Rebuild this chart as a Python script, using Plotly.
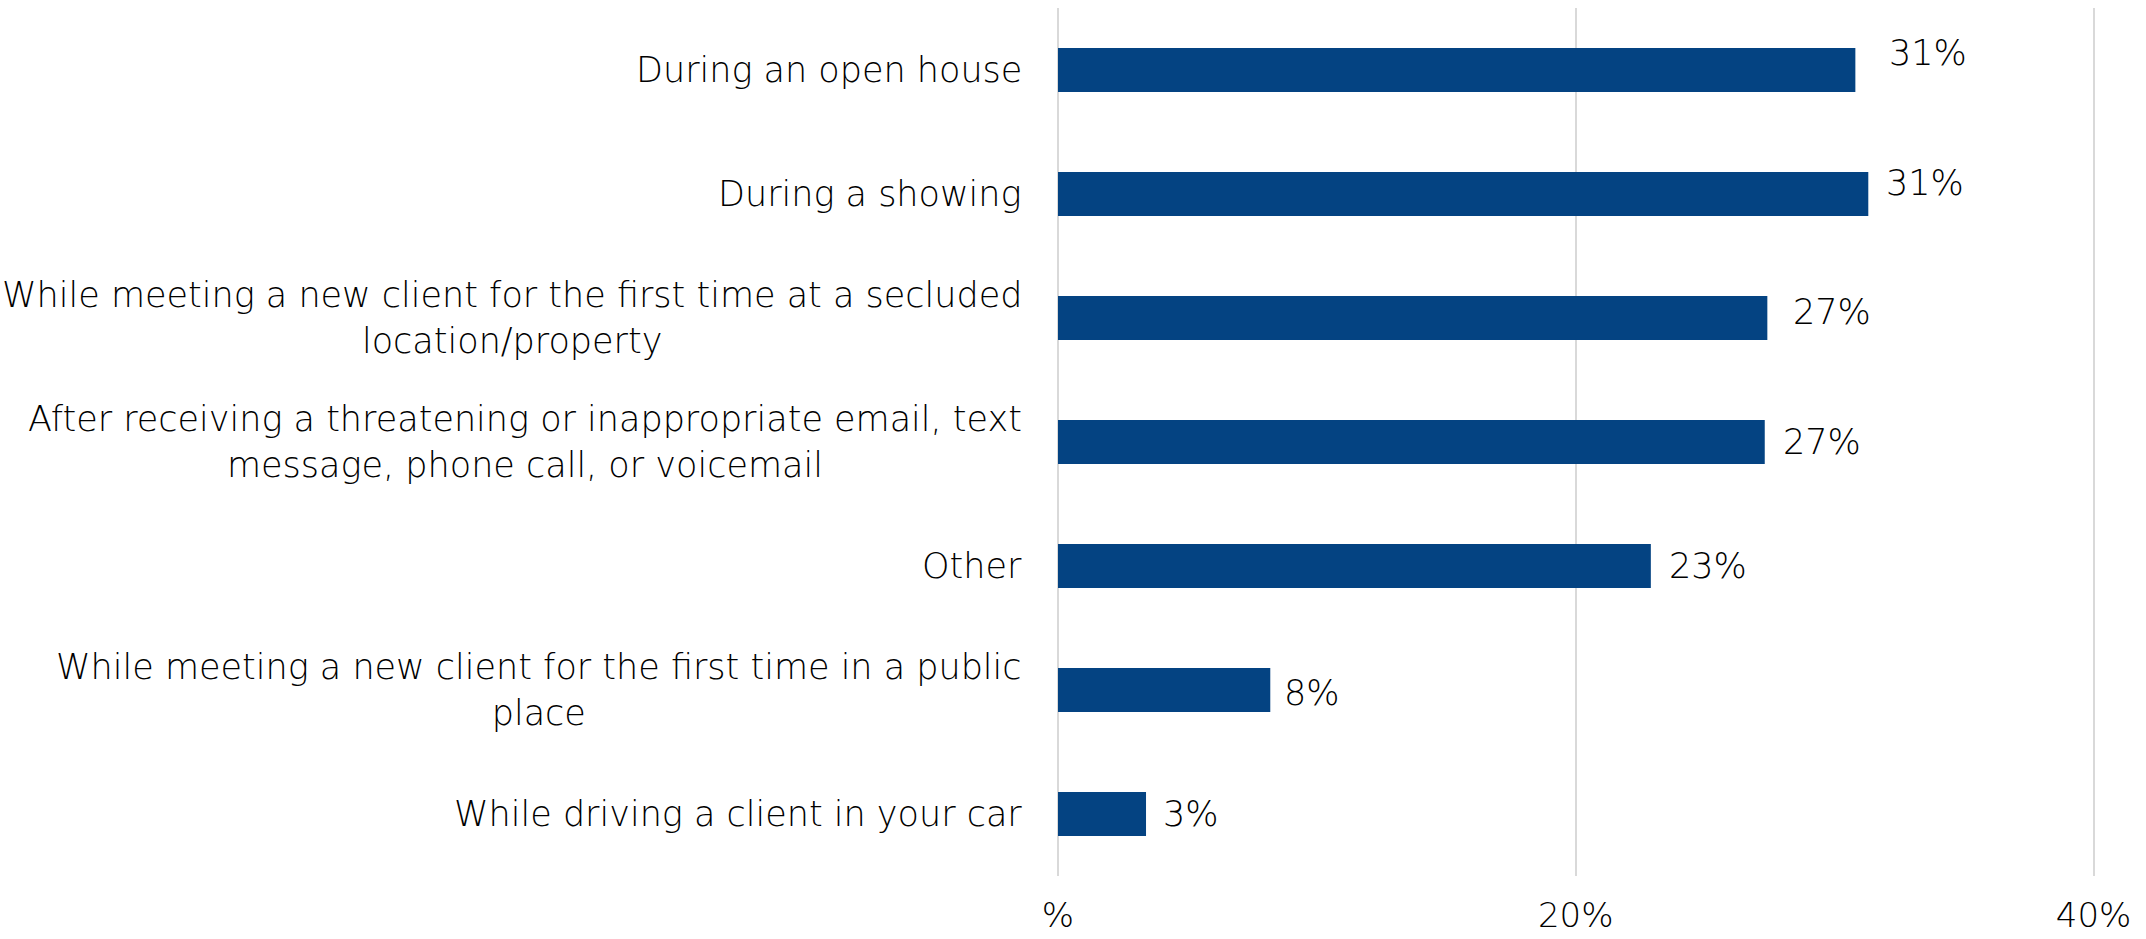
import plotly.graph_objects as go

# Survey responses: situations in which agents felt unsafe
categories = [
    "During an open house",
    "During a showing",
    "While meeting a new client for the first time at a secluded<br>location/property",
    "After receiving a threatening or inappropriate email, text<br>message, phone call, or voicemail",
    "Other",
    "While meeting a new client for the first time in a public<br>place",
    "While driving a client in your car",
]
shares = [30.8, 31.3, 27.4, 27.3, 22.9, 8.2, 3.4]

tick_values = [0, 20, 40]
tick_labels = ["%", "20%", "40%"]

# Nudges for the value labels (pixels), as placed in the original layout
label_dx = [32, 16, 24, 16, 16, 12, 15]
label_dy = [17, 11, 6, 0, 0, -3, 0]

FONT = "DejaVu Sans"
TEXT_SIZE = 35
BAR_COLOR = "#044382"
GRID_COLOR = "#d9d9d9"

fig = go.Figure(
    go.Bar(
        x=shares,
        y=categories,
        orientation="h",
        marker=dict(color=BAR_COLOR, line=dict(width=0)),
        width=0.355,
        hoverinfo="skip",
    )
)

# Category labels: right-aligned block, lines centred within it
for cat in categories:
    fig.add_annotation(
        x=0, xref="paper", y=cat, yref="y",
        text=cat, showarrow=False,
        xanchor="right", yanchor="middle", align="center",
        xshift=-34,
        font=dict(family=FONT, size=TEXT_SIZE, color="#000000", weight=300),
    )

# Value labels just beyond each bar end
for cat, val, dx, dy in zip(categories, shares, label_dx, label_dy):
    fig.add_annotation(
        x=val, xref="x", y=cat, yref="y",
        text=f"{val:.0f}%", showarrow=False,
        xanchor="left", yanchor="middle",
        xshift=dx, yshift=dy,
        font=dict(family=FONT, size=TEXT_SIZE, color="#000000", weight=300),
    )

fig.update_layout(
    width=2146,
    height=939,
    margin=dict(l=1058, r=46, t=8, b=63),
    paper_bgcolor="white",
    plot_bgcolor="white",
    showlegend=False,
    font=dict(family=FONT, size=TEXT_SIZE, color="#000000", weight=300),
)

fig.update_xaxes(
    range=[0, 40.25],
    tickvals=tick_values,
    ticktext=tick_labels,
    showgrid=True,
    gridcolor=GRID_COLOR,
    gridwidth=1.5,
    zeroline=True,
    zerolinecolor=GRID_COLOR,
    zerolinewidth=1.5,
    showline=False,
    ticks="outside",
    ticklen=9,
    tickcolor="rgba(0,0,0,0)",
    tickfont=dict(family=FONT, size=34, color="#000000", weight=300),
    automargin=False,
    fixedrange=True,
)

fig.update_yaxes(
    autorange="reversed",
    showticklabels=False,
    showgrid=False,
    zeroline=False,
    showline=False,
    ticks="",
    automargin=False,
    fixedrange=True,
)

fig.write_html("out.html", config={"displayModeBar": False})
